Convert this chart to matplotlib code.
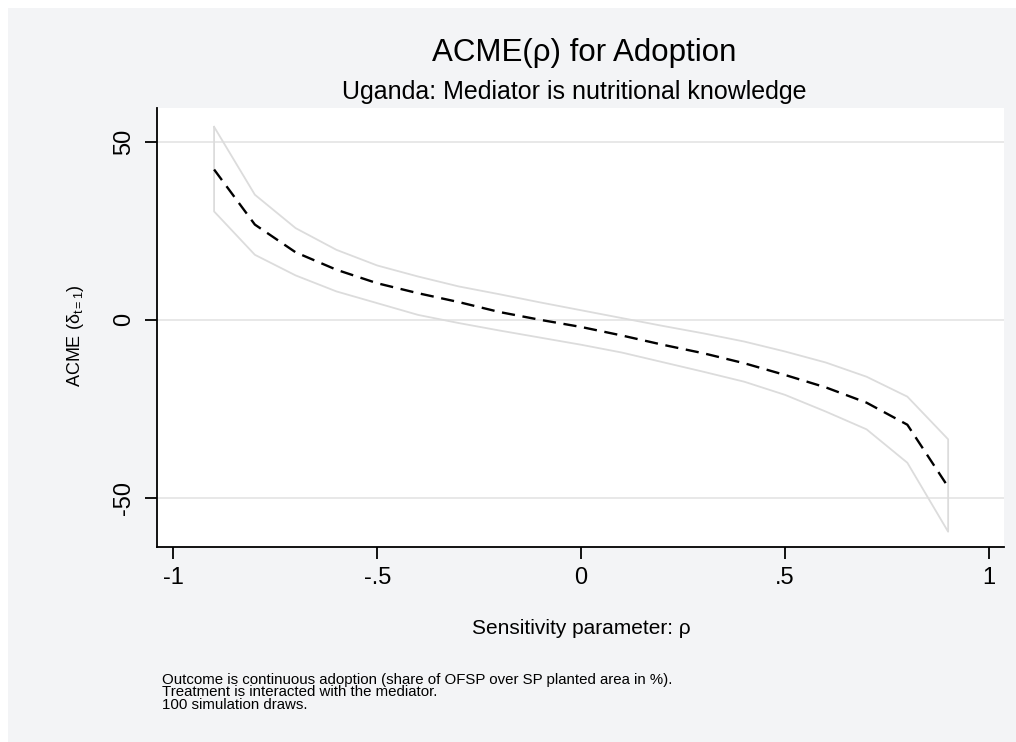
import matplotlib
matplotlib.use("Agg")
import matplotlib.pyplot as plt
from matplotlib.patches import Rectangle
import numpy as np

# ---- data ----
rho = [-0.9, -0.8, -0.7, -0.6, -0.5, -0.4, -0.3, -0.2, -0.1, 0.0,
       0.1, 0.2, 0.3, 0.4, 0.5, 0.6, 0.7, 0.8, 0.9]
acme = [42.3, 26.8, 19.0, 14.1, 10.3, 7.5, 5.0, 2.2, 0.0, -2.0,
        -4.4, -7.0, -9.4, -12.2, -15.5, -19.0, -23.3, -29.5, -47.0]
upper = [54.3, 35.2, 25.8, 19.7, 15.3, 12.2, 9.4, 7.2, 4.9, 2.7,
         0.5, -1.7, -3.8, -6.1, -8.9, -12.0, -16.0, -21.6, -33.6]
lower = [30.5, 18.3, 12.5, 8.0, 4.7, 1.4, -0.9, -3.0, -5.0, -7.0,
         -9.2, -11.9, -14.6, -17.4, -21.1, -25.8, -30.8, -40.2, -59.6]
xticks = [-1, -0.5, 0, 0.5, 1]
xticklabels = ["-1", "-.5", "0", ".5", "1"]
yticks = [-50, 0, 50]
yticklabels = ["-50", "0", "50"]

plt.rcParams['font.family'] = ['Liberation Sans', 'DejaVu Sans']
plt.rcParams['mathtext.fontset'] = 'custom'
plt.rcParams['mathtext.rm'] = 'Liberation Sans'
plt.rcParams['mathtext.it'] = 'Liberation Sans:italic'
plt.rcParams['lines.scale_dashes'] = False

W, H = 1016, 742
fig = plt.figure(figsize=(W / 100, H / 100), dpi=100, facecolor='white')
bg = Rectangle((8 / W, 0), (W - 8) / W, (H - 8) / H, transform=fig.transFigure,
               facecolor='#f3f4f6', edgecolor='none', zorder=-10)
fig.patches.append(bg)

L, R, T, B = 157, 1004, 108, 547
ax = fig.add_axes([L / W, (H - B) / H, (R - L) / W, (B - T) / H])
ax.set_facecolor('white')

ax.set_xlim(-1.040, 1.037)
ax.set_ylim(-63.9, 59.6)

for v in yticks:
    ax.axhline(v, color='#e6e6e6', lw=1.3, zorder=0)

# band outline (closed polygon)
bx = list(rho) + list(rho[::-1]) + [rho[0]]
by = list(upper) + list(lower[::-1]) + [upper[0]]
ax.plot(bx, by, color='#dcdcdc', lw=1.3, zorder=1)

ax.plot(rho, acme, color='black', lw=1.7, linestyle=(0, (9.5, 5.5)), zorder=2)

for s in ['top', 'right']:
    ax.spines[s].set_visible(False)
for s in ['left', 'bottom']:
    ax.spines[s].set_linewidth(1.3)
    ax.spines[s].set_color('black')

ax.set_xticks(xticks)
ax.set_xticklabels(xticklabels)
ax.set_yticks(yticks)
ax.set_yticklabels(yticklabels, rotation=90, va='center')
ax.tick_params(axis='both', direction='out', length=8.5, width=1.3, labelsize=17)
ax.tick_params(axis='x', pad=6)
ax.tick_params(axis='y', pad=7)

fig.text(584 / W, 1 - 53 / H, 'ACME(ρ) for Adoption', ha='center', va='center', fontsize=22.5)
fig.text(574 / W, 1 - 92 / H, 'Uganda: Mediator is nutritional knowledge', ha='center', va='center', fontsize=18)
fig.text(581 / W, 1 - 628 / H, 'Sensitivity parameter: ρ', ha='center', va='center', fontsize=15)
fig.text(75 / W, 1 - 336 / H, r'ACME ($\mathregular{δ_{t=1}}$)', ha='center', va='center', rotation=90, fontsize=13)

notes = ["Outcome is continuous adoption (share of OFSP over SP planted area in %).",
         "Treatment is interacted with the mediator.",
         "100 simulation draws."]
for i, line in enumerate(notes):
    fig.text(162 / W, 1 - (680 + 12.5 * i) / H, line, ha='left', va='center', fontsize=10.8)

fig.savefig('out.png', dpi=100, facecolor=fig.get_facecolor())
